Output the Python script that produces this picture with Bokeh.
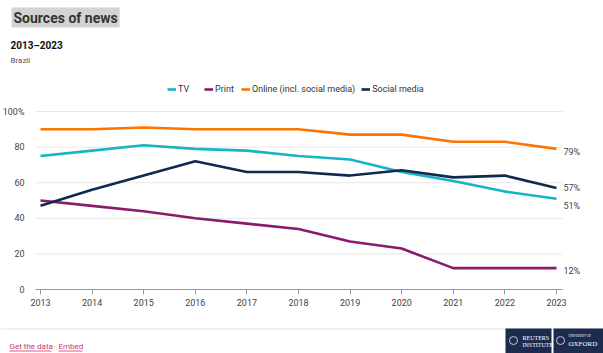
from bokeh.plotting import figure
from bokeh.layouts import column
from bokeh.models import (Range1d, Label, Legend, LegendItem, FixedTicker,
                          ColumnDataSource, LinearAxis)
from bokeh.core.properties import value
from bokeh.embed import file_html
from bokeh.resources import INLINE

# ---------------- data ----------------
years = [2013, 2014, 2015, 2016, 2017, 2018, 2019, 2020, 2021, 2022, 2023]
tv = [75, 78, 81, 79, 78, 75, 73, 66, 61, 55, 51]
print_ = [50, 47, 44, 40, 37, 34, 27, 23, 12, 12, 12]
online = [90, 90, 91, 90, 90, 90, 87, 87, 83, 83, 79]
social = [47, 56, 64, 72, 66, 66, 64, 67, 63, 64, 57]
series_names = ["TV", "Print", "Online (incl. social media)", "Social media"]
y_ticks = [0, 20, 40, 60, 80, 100]
grid_ticks = [20, 40, 60, 80, 100]
end_values = [79, 57, 51, 12]
end_labels = ["79%", "57%", "51%", "12%"]

# ---------------- style ----------------
FONT = "Roboto"
COLORS = ["#17b4c6", "#8b1a6e", "#ff7300", "#0f2a4f"]
W = 603
HEAD_H, MAIN_H, FOOT_H = 80, 240, 33
PX_PER_YEAR = 51.6
PX_PER_PCT = 1.78
X_START = years[0] - 40 / PX_PER_YEAR     # canvas left edge
X_LO = years[0] - 5 / PX_PER_YEAR         # left end of grid / axis
X_HI = years[-1] + 6 / PX_PER_YEAR        # right end of grid / axis
X_END = years[-1] + 47 / PX_PER_YEAR      # canvas right edge
Y_TOP = 100 + 31 / PX_PER_PCT             # room for the legend
Y_BOTTOM = -31 / PX_PER_PCT               # room for the year labels


def blank(h):
    f = figure(width=W, height=h, output_backend="svg", toolbar_location=None,
               x_range=Range1d(0, W), y_range=Range1d(h, 0),
               x_axis_type=None, y_axis_type=None,
               min_border_left=0, min_border_right=0,
               min_border_top=0, min_border_bottom=0)
    f.outline_line_color = None
    f.background_fill_color = "white"
    f.border_fill_color = "white"
    return f


# ---------------- header ----------------
head = blank(HEAD_H)
head.add_layout(Label(x=11, y=17, text="Sources of news", text_font=FONT,
                      text_font_size="14px", text_font_style="bold", text_color="#333333",
                      text_baseline="middle", background_fill_color="#d3d3d3", padding=2))
head.add_layout(Label(x=10, y=45, text="2013\u20132023", text_font=FONT,
                      text_font_size="10px", text_font_style="bold", text_color="#111111",
                      text_baseline="middle"))
head.add_layout(Label(x=10, y=60, text="Brazil", text_font=FONT, text_font_size="8px",
                      text_color="#555555", text_baseline="middle"))

# ---------------- main chart ----------------
p = figure(width=W, height=MAIN_H, output_backend="svg", toolbar_location=None,
           x_range=Range1d(X_START, X_END), y_range=Range1d(Y_BOTTOM, Y_TOP),
           x_axis_location=None, y_axis_location=None,
           min_border_left=0, min_border_right=0, min_border_top=0, min_border_bottom=0)
p.outline_line_color = None
p.background_fill_color = "white"
p.border_fill_color = "white"
p.xgrid.grid_line_color = None
p.ygrid.grid_line_color = None

p.segment(x0=[X_LO] * len(grid_ticks), y0=grid_ticks, x1=[X_HI] * len(grid_ticks),
          y1=grid_ticks, line_color="#e8e8e8", line_width=1)

yax = LinearAxis(fixed_location=X_LO, ticker=FixedTicker(ticks=y_ticks),
                 major_label_overrides={100: "100%"},
                 axis_line_color=None, major_tick_line_color=None,
                 minor_tick_line_color=None, major_label_standoff=5)
p.add_layout(yax, "left")

xax = LinearAxis(fixed_location=0, ticker=FixedTicker(ticks=years), bounds=(X_LO, X_HI),
                 axis_line_color="#9a9a9a", major_tick_line_color="#9a9a9a",
                 major_tick_in=0, major_tick_out=5, minor_tick_line_color=None,
                 major_label_standoff=4)
p.add_layout(xax, "below")

for ax in (xax, yax):
    ax.major_label_text_font = FONT
    ax.major_label_text_font_size = "9px"
    ax.major_label_text_color = "#444444"

renderers = []
for vals, col in zip([tv, print_, online, social], COLORS):
    renderers.append(p.line(years, vals, line_color=col, line_width=2.6))

src = ColumnDataSource(dict(x=[years[-1]] * 4, y=end_values, text=end_labels,
                            yo=[3, 0, 7, 3]))
p.text(x="x", y="y", text="text", source=src, x_offset=7, y_offset="yo",
       text_font=value(FONT), text_font_size="9px",
       text_color="#444444", text_baseline="middle", text_align="left")

legend = Legend(items=[LegendItem(label=n, renderers=[r]) for n, r in zip(series_names, renderers)],
                orientation="horizontal", location=(167, 225),
                label_text_font=FONT, label_text_font_size="9px", label_text_color="#333333",
                glyph_width=9, glyph_height=10, label_height=12, label_standoff=2,
                spacing=6, padding=0, margin=0, border_line_color=None,
                background_fill_alpha=0)
p.add_layout(legend)

# ---------------- footer ----------------
foot = blank(FOOT_H)
foot.segment(x0=[0], y0=[8.5], x1=[W], y1=[8.5], line_color="#e2e2ea", line_width=1)
foot.text(x=[9], y=[26], text=["Get the data"], text_font=value(FONT), text_font_size="8px",
          text_color="#c8366f", text_baseline="middle")
foot.text(x=[53], y=[26], text=["\u00b7"], text_font=value(FONT), text_font_size="9px",
          text_color="#ff7300", text_baseline="middle")
foot.text(x=[58], y=[26], text=["Embed"], text_font=value(FONT), text_font_size="8px",
          text_color="#c8366f", text_baseline="middle")
foot.segment(x0=[9, 58], y0=[30.5, 30.5], x1=[51, 82], y1=[30.5, 30.5],
             line_color="#c8366f", line_width=0.8)
foot.quad(left=[505, 553], right=[551, 603], top=[8, 8], bottom=[33, 33],
          fill_color="#1d2b4f", line_color=None)
foot.text(x=[522, 522], y=[17, 24], text=["REUTERS", "INSTITUTE"],
          text_font=value("Liberation Serif"), text_font_size="6px",
          text_color="white", text_baseline="middle")
foot.text(x=[568, 568], y=[15, 23], text=["UNIVERSITY OF", "OXFORD"],
          text_font=value("Liberation Serif"), text_font_size=["3px", "7px"],
          text_color="white", text_baseline="middle")
foot.circle(x=[513, 560], y=[20, 20], radius=4, fill_color=None,
            line_color="#c8c8d8", line_width=1)

layout = column(head, p, foot, spacing=0)
open("out.html", "w").write(file_html(layout, INLINE))
